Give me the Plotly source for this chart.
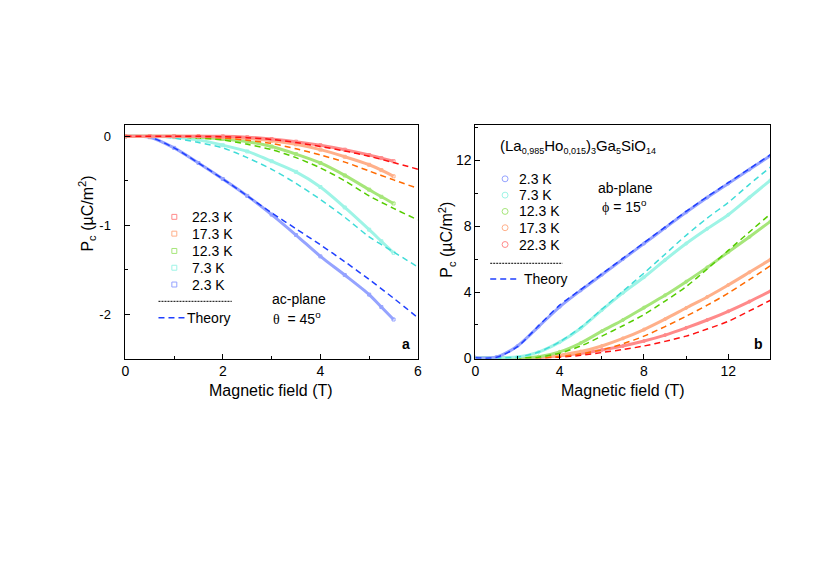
import plotly.graph_objects as go

# ---- panel a : ac-plane, theta = 45 deg ----
temps_a = ["22.3 K", "17.3 K", "12.3 K", "7.3 K", "2.3 K"]

field_a_exp = [0, 0.5, 1, 1.5, 2, 2.5, 3, 3.5, 4, 4.5, 5, 5.25, 5.5]
pc_a_exp = {
    "22.3 K": [0, 0, 0, 0, 0, -0.01, -0.03, -0.06, -0.10, -0.15, -0.21, -0.245, -0.28],
    "17.3 K": [0, 0, 0, 0, -0.01, -0.025, -0.05, -0.09, -0.15, -0.23, -0.32, -0.38, -0.45],
    "12.3 K": [0, 0, 0, -0.01, -0.03, -0.06, -0.115, -0.20, -0.30, -0.44, -0.60, -0.68, -0.755],
    "7.3 K": [0, 0, -0.01, -0.04, -0.10, -0.17, -0.28, -0.40, -0.57, -0.80, -1.05, -1.18, -1.31],
    "2.3 K": [0, -0.01, -0.13, -0.30, -0.48, -0.67, -0.88, -1.11, -1.35, -1.56, -1.78, -1.92, -2.06],
}

field_a_th = [0, 0.5, 1, 1.5, 2, 2.5, 3, 3.5, 4, 4.5, 5, 5.5, 6]
pc_a_th = {
    "22.3 K": [0, 0, 0, 0, -0.005, -0.015, -0.035, -0.07, -0.115, -0.165, -0.225, -0.295, -0.37],
    "17.3 K": [0, 0, 0, -0.01, -0.02, -0.045, -0.08, -0.14, -0.21, -0.29, -0.39, -0.49, -0.585],
    "12.3 K": [0, 0, -0.005, -0.02, -0.04, -0.09, -0.15, -0.24, -0.355, -0.50, -0.67, -0.81, -0.94],
    "7.3 K": [0, 0, -0.02, -0.07, -0.13, -0.24, -0.37, -0.53, -0.71, -0.91, -1.13, -1.30, -1.47],
    "2.3 K": [0, -0.01, -0.13, -0.30, -0.48, -0.67, -0.86, -1.04, -1.22, -1.41, -1.61, -1.82, -2.04],
}

# ---- panel b : ab-plane, phi = 15 deg ----
temps_b = ["2.3 K", "7.3 K", "12.3 K", "17.3 K", "22.3 K"]

field_b = [0, 1, 2, 3, 4, 5, 6, 7, 8, 9, 10, 11, 12, 13, 14]
pc_b_exp = {
    "2.3 K": [0, 0.05, 0.72, 1.9, 3.1, 4.1, 5.05, 6.0, 6.95, 7.9, 8.85, 9.75, 10.6, 11.45, 12.3],
    "7.3 K": [0, 0, 0.05, 0.35, 0.95, 1.8, 2.9, 3.95, 4.9, 5.95, 6.95, 7.85, 8.7, 9.75, 10.8],
    "12.3 K": [0, 0, 0, 0.07, 0.36, 0.9, 1.62, 2.3, 3.05, 3.8, 4.63, 5.5, 6.43, 7.35, 8.3],
    "17.3 K": [0, 0, 0, 0.03, 0.16, 0.38, 0.72, 1.18, 1.72, 2.35, 3.03, 3.7, 4.43, 5.2, 5.98],
    "22.3 K": [0, 0, 0, 0.02, 0.12, 0.27, 0.48, 0.72, 1.02, 1.38, 1.82, 2.3, 2.83, 3.42, 4.05],
}
pc_b_th = {
    "2.3 K": [0, 0.03, 0.68, 1.95, 3.2, 4.15, 5.1, 6.05, 7.0, 7.95, 8.9, 9.8, 10.65, 11.5, 12.35],
    "7.3 K": [0, 0, 0.05, 0.35, 0.97, 1.85, 2.95, 4.05, 5.15, 6.3, 7.45, 8.5, 9.45, 10.55, 11.6],
    "12.3 K": [0, 0, 0, 0.04, 0.28, 0.72, 1.32, 1.95, 2.63, 3.45, 4.33, 5.4, 6.53, 7.65, 8.75],
    "17.3 K": [0, 0, 0, 0.01, 0.08, 0.24, 0.48, 0.85, 1.32, 1.9, 2.53, 3.2, 3.93, 4.75, 5.6],
    "22.3 K": [0, 0, 0, 0, 0.04, 0.15, 0.32, 0.5, 0.72, 1.0, 1.32, 1.75, 2.22, 2.85, 3.5],
}

# theory colour, measured-data colour (lighter)
colors = {
    "22.3 K": ("#ff1010", "#ff8a8a"),
    "17.3 K": ("#ff6a00", "#ffb08a"),
    "12.3 K": ("#55cc00", "#a6e67a"),
    "7.3 K": ("#40dcd8", "#9ef4e6"),
    "2.3 K": ("#2040ff", "#95a3ff"),
}

W, H = 822, 581
FONT = "Liberation Sans, Arial, sans-serif"


def px(x):
    return x / W


def py(y):
    return 1 - y / H


fig = go.Figure()

for t in temps_a[::-1]:
    th_col, exp_col = colors[t]
    fig.add_trace(go.Scatter(
        x=field_a_exp, y=pc_a_exp[t], mode="lines+markers",
        line=dict(color=exp_col, width=3, shape="spline", smoothing=0.8),
        marker=dict(symbol="square-open", size=3, color=exp_col, line=dict(width=1)),
        xaxis="x", yaxis="y", showlegend=False))
    fig.add_trace(go.Scatter(
        x=field_a_th, y=pc_a_th[t], mode="lines",
        line=dict(color=th_col, width=1.5, dash="6px,4px", shape="spline", smoothing=0.8),
        xaxis="x", yaxis="y", showlegend=False))

for t in temps_b[::-1]:
    th_col, exp_col = colors[t]
    fig.add_trace(go.Scatter(
        x=field_b, y=pc_b_exp[t], mode="lines+markers",
        line=dict(color=exp_col, width=3, shape="spline", smoothing=0.8),
        marker=dict(symbol="circle-open", size=3, color=exp_col, line=dict(width=1)),
        xaxis="x2", yaxis="y2", showlegend=False))
    fig.add_trace(go.Scatter(
        x=field_b, y=pc_b_th[t], mode="lines",
        line=dict(color=th_col, width=1.5, dash="6px,4px", shape="spline", smoothing=0.8),
        xaxis="x2", yaxis="y2", showlegend=False))

axis_common = dict(
    showline=True, linecolor="black", linewidth=1, mirror=True,
    ticks="inside", ticklen=5, tickcolor="black", showgrid=False, zeroline=False,
    tickfont=dict(family=FONT, size=14, color="black"),
)

NB = "\u00a0"
fig.update_layout(
    width=W, height=H,
    paper_bgcolor="white", plot_bgcolor="white",
    margin=dict(l=0, r=0, t=0, b=0),
    font=dict(family=FONT, size=14, color="black"),
    xaxis=dict(domain=[px(122.5), px(418)], range=[0, 6], tickvals=[0, 2, 4, 6],
               minor=dict(ticks="inside", ticklen=3, dtick=1, tickcolor="black"),
               anchor="y", **axis_common),
    yaxis=dict(domain=[py(363), py(127)], range=[-2.5, 0.122], tickvals=[0, -1, -2],
               ticktext=["0" + NB * 3, "-1" + NB * 3, "-2" + NB * 3],
               minor=dict(ticks="inside", ticklen=3, dtick=0.5, tickcolor="black"),
               anchor="x", **axis_common),
    xaxis2=dict(domain=[px(476), px(774)], range=[0, 14], tickvals=[0, 4, 8, 12],
                minor=dict(ticks="inside", ticklen=3, dtick=2, tickcolor="black"),
                anchor="y2", **axis_common),
    yaxis2=dict(domain=[py(363), py(127)], range=[-0.05, 14.13], tickvals=[0, 4, 8, 12],
                minor=dict(ticks="inside", ticklen=3, dtick=2, tickcolor="black"),
                anchor="x2", **axis_common),
)
fig.update_yaxes(tickfont_size=13, selector=dict(anchor="x"))

ann = []
shapes = []


def text(x, y, s, size=14, xanchor="left", angle=0, **kw):
    ann.append(dict(x=px(x), y=py(y), xref="paper", yref="paper", text=s,
                    showarrow=False, xanchor=xanchor, yanchor="middle",
                    textangle=angle, font=dict(family=FONT, size=size, color="black"), **kw))


def small(s):
    return "<sub><span style='font-size:9px'>" + s + "</span></sub>"


# axis titles
ytitle = "P<sub>c</sub> (µC/m<sup>2</sup>)"
text(270, 395, "Magnetic field (T)", size=16, xanchor="center")
text(625, 395, "Magnetic field (T)", size=16, xanchor="center")
text(84, 216, ytitle, size=16, xanchor="center", angle=-90)
text(447, 243, ytitle, size=16, xanchor="center", angle=-90)

# panel a legend
rows_a = [219.5, 236.5, 254, 271, 288]
for t, yy in zip(temps_a, rows_a):
    c = colors[t][1]
    shapes.append(dict(type="rect", xref="paper", yref="paper",
                       x0=px(169.5), x1=px(174.5), y0=py(yy + 2.5), y1=py(yy - 2.5),
                       line=dict(color=c, width=1)))
    text(188, yy, t)
shapes.append(dict(type="line", xref="paper", yref="paper", x0=px(156), x1=px(230),
                   y0=py(305), y1=py(305), line=dict(color="black", width=1, dash="2px,1px")))
shapes.append(dict(type="line", xref="paper", yref="paper", x0=px(156), x1=px(185),
                   y0=py(321.5), y1=py(321.5), line=dict(color=colors["2.3 K"][0], width=1.5, dash="6px,4px")))
text(183, 321.5, "Theory")
text(297.5, 303, "ac-plane", xanchor="center")
text(296, 322, "<span style='font-family:Liberation Serif'>θ</span>  = 45<sup>o</sup>", xanchor="center")
text(406, 348, "<b>a</b>", xanchor="center")

# panel b legend
rows_b = [181, 197.5, 214, 230.5, 247.5]
for t, yy in zip(temps_b, rows_b):
    c = colors[t][1]
    shapes.append(dict(type="circle", xref="paper", yref="paper",
                       x0=px(503), x1=px(509), y0=py(yy + 3), y1=py(yy - 3),
                       line=dict(color=c, width=1)))
    text(518, yy, t)
shapes.append(dict(type="line", xref="paper", yref="paper", x0=px(491), x1=px(564),
                   y0=py(266.5), y1=py(266.5), line=dict(color="black", width=1, dash="2px,1px")))
shapes.append(dict(type="line", xref="paper", yref="paper", x0=px(491), x1=px(521),
                   y0=py(282.5), y1=py(282.5), line=dict(color=colors["2.3 K"][0], width=1.5, dash="6px,4px")))
text(523, 282.5, "Theory")
formula = ("(La" + small("0,985") + "Ho" + small("0,015") + ")" + small("3")
           + "Ga" + small("5") + "SiO" + small("14"))
text(499, 148, formula, size=15)
text(628, 190, "ab-plane", xanchor="center")
text(627, 209, "<span style='font-family:Liberation Serif'>ϕ</span> = 15<sup>o</sup>", xanchor="center")
text(762, 348, "<b>b</b>", xanchor="center")

fig.update_layout(annotations=ann, shapes=shapes)

# the page body keeps an 8px margin by default, which would shift the figure
fig.write_html("out.html", config={"displayModeBar": False},
               post_script="document.body.style.margin='0px';")
